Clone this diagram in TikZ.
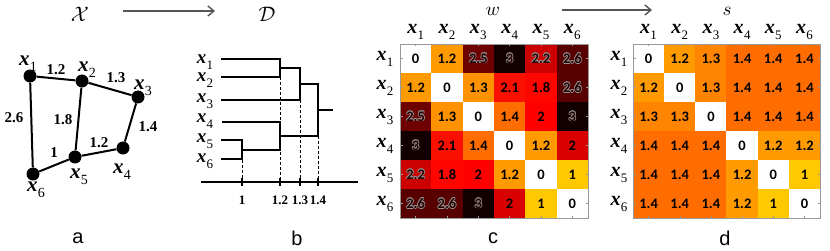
\documentclass[tikz,border=0pt]{standalone}
\usepackage{fontspec}
\setmainfont{Liberation Serif}
\newfontfamily\numfont{Carlito}
\newfontfamily\sansf{Liberation Sans}
\usepackage{graphicx}
\usetikzlibrary{arrows.meta}
\definecolor{o10}{HTML}{FFC800}
\definecolor{o12}{HTML}{FF9A00}
\definecolor{o13}{HTML}{FF9200}
\definecolor{d13}{HTML}{FF8400}
\definecolor{o14}{HTML}{FF6C00}
\definecolor{r18}{HTML}{FF0500}
\definecolor{r20}{HTML}{FF0000}
\definecolor{r20b}{HTML}{D80000}
\definecolor{r21}{HTML}{FA1000}
\definecolor{r22}{HTML}{CC0000}
\definecolor{r25}{HTML}{6E0000}
\definecolor{r26}{HTML}{580000}
\definecolor{r30}{HTML}{120000}
\definecolor{arrowgray}{HTML}{555555}
\def\subsz{12}
\newcommand{\xv}[1]{\textbf{\textit{x}}\kern0.3pt\raisebox{-0.3em}{\fontsize{\subsz}{\subsz}\selectfont\mdseries\upshape #1}}
\tikzset{
  gnode/.style={circle, fill=black, inner sep=0pt, minimum size=13pt},
  gedge/.style={line width=2pt},
  glab/.style={font=\fontsize{21}{21}\selectfont\def\subsz{14}, inner sep=0pt},
  dlab/.style={font=\fontsize{19}{19}\selectfont\def\subsz{13}, inner sep=0pt},
  wlab/.style={font=\bfseries\fontsize{15}{15}\selectfont, inner sep=0pt},
  tlab/.style={font=\bfseries\fontsize{13}{13}\selectfont, inner sep=0pt},
  panel/.style={font=\sansf\fontsize{20}{20}\selectfont, inner sep=0pt},
  scr/.style={inner sep=0pt},
  bigarrow/.style={arrowgray, line width=1.6pt, -{Straight Barb[length=6pt,width=10pt,line width=1.4pt]}},
  dtree/.style={line width=1.3pt},
  ddash/.style={line width=0.8pt, dashed, dash pattern=on 3pt off 2pt},
  celltxt/.style={font=\numfont\bfseries\fontsize{14.5}{14.5}\selectfont, inner sep=0pt},
  mlab/.style={font=\fontsize{20}{20}\selectfont\def\subsz{13}, inner sep=0pt},
  mframe/.style={draw=gray!80, line width=0.8pt},
  mtick/.style={gray!80, line width=0.5pt}
}
\begin{document}
\begin{tikzpicture}[x=1pt,y=-1pt]
\useasboundingbox (0,0) rectangle (830,251);
\fill[white] (0,0) rectangle (830,251);

% ---------- titles and arrows
\node[scr] (X) at (80,14) {\scalebox{2.1}{$\mathcal{X}$}};
\node[scr] (D) at (267,14) {\scalebox{2.1}{$\mathcal{D}$}};
\coordinate (a1s) at (123,11);
\coordinate (a1e) at (215,11);
\draw[bigarrow] (a1s) -- (a1e);
\node[scr] (W) at (493,11.5) {\scalebox{1.9}{$w$}};
\node[scr] (S) at (727,11.5) {\scalebox{1.9}{$s$}};
\coordinate (a2s) at (562,10);
\coordinate (a2e) at (652,10);
\draw[bigarrow] (a2s) -- (a2e);

% ---------- panel a: graph
\node[gnode] (g1) at (30,76) {};
\node[gnode] (g2) at (82,81) {};
\node[gnode] (g3) at (138,97) {};
\node[gnode] (g4) at (123,148) {};
\node[gnode] (g5) at (75,157) {};
\node[gnode] (g6) at (33,174) {};
\draw[gedge] (g1) -- (g2);
\draw[gedge] (g2) -- (g3);
\draw[gedge] (g3) -- (g4);
\draw[gedge] (g4) -- (g5);
\draw[gedge] (g5) -- (g2);
\draw[gedge] (g5) -- (g6);
\draw[gedge] (g6) -- (g1);
\node[glab] (l1) at (28,64) {\xv{1}};
\node[glab] (l2) at (87,70) {\xv{2}};
\node[glab] (l3) at (143,88) {\xv{3}};
\node[glab] (l4) at (122,172) {\xv{4}};
\node[glab] (l5) at (79,177) {\xv{5}};
\node[glab] (l6) at (36,190) {\xv{6}};
\node[wlab] (e12) at (56,70) {1.2};
\node[wlab] (e23) at (116,78) {1.3};
\node[wlab] (e16) at (14,118) {2.6};
\node[wlab] (e25) at (63,120) {1.8};
\node[wlab] (e34) at (148,127) {1.4};
\node[wlab] (e56) at (54,153) {1};
\node[wlab] (e45) at (99,143) {1.2};
\node[panel] (pa) at (78,238) {a};

% ---------- panel b: dendrogram
\foreach \i/\y in {1/62,2/80,3/101,4/121,5/141,6/161}{
  \node[dlab] (d\i) at (205,\y) {\xv{\i}};
}
% dashed guides
\draw[ddash] (242,150) -- (242,182);
\draw[ddash] (280,77) -- (280,182);
\draw[ddash] (300,100) -- (300,182);
\draw[ddash] (318,136) -- (318,182);
% tree
\draw[dtree] (221,59) -- (280,59) -- (280,77) -- (221,77);
\draw[dtree] (280,68) -- (300,68) -- (300,100) -- (221,100);
\draw[dtree] (300,84) -- (318,84) -- (318,136) -- (280,136);
\draw[dtree] (318,110) -- (333,110);
\draw[dtree] (222,122) -- (280,122) -- (280,150) -- (242,150);
\draw[dtree] (221,140) -- (242,140) -- (242,159) -- (221,159);
% axis
\draw[line width=1.3pt] (201,182) -- (358,182);
\foreach \x/\t in {242/1,280/1.2,300/1.3,318/1.4}{
  \draw[line width=1.1pt] (\x,178) -- (\x,186);
  \node[tlab] (t\x) at (\x,200) {\t};
}
\node[panel] (pb) at (297,238) {b};

% ---------- panel c: matrix w
\foreach \r/\rl in {
 1/{0/white/0,1.2/o12/0,2.5/r25/1,3/r30/1,2.2/r22/1,2.6/r26/1},
 2/{1.2/o12/0,0/white/0,1.3/o13/0,2.1/r21/0,1.8/r18/0,2.6/r26/1},
 3/{2.5/r25/1,1.3/o13/0,0/white/0,1.4/o14/0,2/r20/0,3/r30/1},
 4/{3/r30/1,2.1/r21/0,1.4/o14/0,0/white/0,1.2/o12/0,2/r20b/0},
 5/{2.2/r22/1,1.8/r18/0,2/r20/0,1.2/o12/0,0/white/0,1/o10/0},
 6/{2.6/r26/1,2.6/r26/1,3/r30/1,2/r20b/0,1/o10/0,0/white/0}}{
  \foreach \v/\cc/\hh [count=\cl] in \rl {
    \pgfmathsetmacro\cx{400+31.33*(\cl-0.5)}
    \pgfmathsetmacro\cy{44+29*(\r-0.5)}
    \fill[\cc] (\cx-15.8,\cy-14.7) rectangle (\cx+15.8,\cy+14.7);
    \ifnum\hh=1
      \foreach \dx/\dy [count=\k] in {0.7/0,-0.7/0,0/0.7,0/-0.7,0.5/0.5,-0.5/0.5,0.5/-0.5,-0.5/-0.5}{
        \node[celltxt, text=gray!85] (ch-\r-\cl-\k) at (\cx+\dx,\cy+\dy) {\v};
      }
      \node[celltxt, text=black!85!red] (cw-\r-\cl) at (\cx,\cy) {\v};
    \else
      \node[celltxt] (cw-\r-\cl) at (\cx,\cy) {\v};
    \fi
  }
}
\draw[mframe] (400,44) rectangle (588,218);
\foreach \i in {1,...,6}{
  \pgfmathsetmacro\cx{400+31.33*(\i-0.5)}
  \pgfmathsetmacro\cy{44+29*(\i-0.5)}
  \draw[mtick] (\cx,218) -- (\cx,215.5);
  \draw[mtick] (\cx,44) -- (\cx,46.5);
  \draw[mtick] (588,\cy) -- (585.5,\cy);
  \draw[mtick] (400,\cy) -- (402.5,\cy);
  \node[mlab] (wc\i) at (\cx,32) {\xv{\i}};
  \node[mlab] (wr\i) at (385,\cy) {\xv{\i}};
}
\node[panel] (pc) at (493,238) {c};

% ---------- panel d: matrix s
\foreach \r/\rl in {
 1/{0/white,1.2/o12,1.3/d13,1.4/o14,1.4/o14,1.4/o14},
 2/{1.2/o12,0/white,1.3/d13,1.4/o14,1.4/o14,1.4/o14},
 3/{1.3/d13,1.3/d13,0/white,1.4/o14,1.4/o14,1.4/o14},
 4/{1.4/o14,1.4/o14,1.4/o14,0/white,1.2/o12,1.2/o12},
 5/{1.4/o14,1.4/o14,1.4/o14,1.2/o12,0/white,1/o10},
 6/{1.4/o14,1.4/o14,1.4/o14,1.2/o12,1/o10,0/white}}{
  \foreach \v/\cc [count=\cl] in \rl {
    \pgfmathsetmacro\cx{633+31.17*(\cl-0.5)}
    \pgfmathsetmacro\cy{44+29*(\r-0.5)}
    \fill[\cc] (\cx-15.7,\cy-14.7) rectangle (\cx+15.7,\cy+14.7);
    \node[celltxt] (cs-\r-\cl) at (\cx,\cy) {\v};
  }
}
\draw[mframe] (633,44) rectangle (820,218);
\foreach \i in {1,...,6}{
  \pgfmathsetmacro\cx{633+31.17*(\i-0.5)}
  \pgfmathsetmacro\cy{44+29*(\i-0.5)}
  \draw[mtick] (\cx,218) -- (\cx,215.5);
  \draw[mtick] (\cx,44) -- (\cx,46.5);
  \draw[mtick] (820,\cy) -- (817.5,\cy);
  \draw[mtick] (633,\cy) -- (635.5,\cy);
  \node[mlab] (sc\i) at (\cx,32) {\xv{\i}};
  \node[mlab] (sr\i) at (619,\cy) {\xv{\i}};
}
\node[panel] (pd) at (725,238) {d};
\end{tikzpicture}
\end{document}
